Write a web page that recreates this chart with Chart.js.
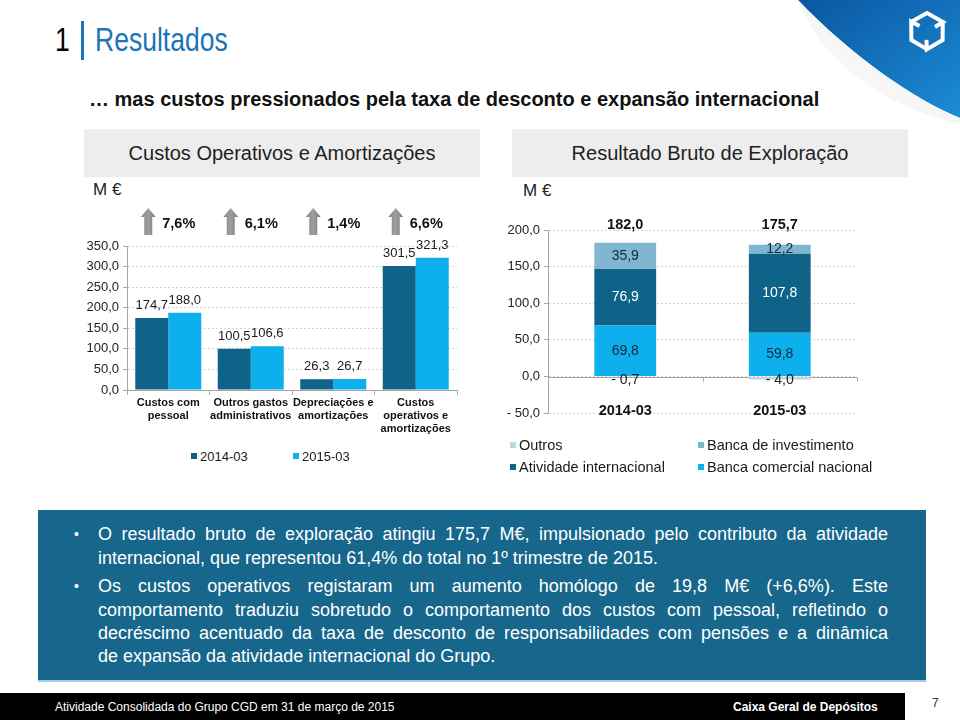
<!DOCTYPE html>
<html><head><meta charset="utf-8">
<script src="https://cdn.jsdelivr.net/npm/chart.js@4.4.0/dist/chart.umd.min.js"></script>
<style>
html,body{margin:0;padding:0;background:#fff;}
body{width:960px;height:720px;position:relative;overflow:hidden;font-family:"Liberation Sans",Arial,sans-serif;color:#1a1a1a;}
.abs{position:absolute;white-space:nowrap;}
.narrow{font-family:"Liberation Sans Narrow","Arial Narrow","Liberation Sans",sans-serif;transform:scaleX(0.78);transform-origin:0 0;}
.box{position:absolute;background:#ededed;height:48px;top:129px;width:396px;display:flex;align-items:center;justify-content:center;font-size:20px;color:#1e1e1e;}
.txt{position:absolute;left:38px;top:510px;width:888px;height:170px;background:#17678c;border-bottom:2px solid #9fd0e6;}
.ln{position:absolute;left:60px;width:790px;height:23.3px;line-height:23.3px;font-size:18px;color:#fff;white-space:normal;}
.j{text-align:justify;text-align-last:justify;}
.bul{position:absolute;left:36px;font-size:14px;color:#fff;line-height:23.3px;}
.lg{position:absolute;display:flex;align-items:center;color:#1a1a1a;white-space:nowrap;}
.lg i{display:inline-block;width:6px;height:6px;margin-right:3px;}
</style></head><body>

<div class="abs narrow" style="left:55px;top:22px;font-size:34px;line-height:34px;color:#000;">1</div>
<div class="abs" style="left:81px;top:21px;width:2.5px;height:39px;background:#1c74b9;"></div>
<div class="abs narrow" style="left:95px;top:22px;font-size:34px;line-height:34px;color:#1c74b9;">Resultados</div>

<div class="abs" style="left:89px;top:89px;font-size:20px;line-height:20px;font-weight:bold;color:#111;">… mas custos pressionados pela taxa de desconto e expansão internacional</div>

<div class="box" style="left:84px;">Custos Operativos e Amortizações</div>
<div class="box" style="left:512px;">Resultado Bruto de Exploração</div>
<div class="abs" style="left:93px;top:181px;font-size:17px;line-height:17px;color:#222;">M €</div>
<div class="abs" style="left:523px;top:182px;font-size:17px;line-height:17px;color:#222;">M €</div>

<svg class="abs" style="left:780px;top:0" width="180" height="140" viewBox="780 0 180 140">
  <defs>
    <linearGradient id="bg" x1="0" y1="0" x2="1" y2="1">
      <stop offset="0" stop-color="#0a57a0"/><stop offset="1" stop-color="#1c8bd6"/>
    </linearGradient>
    <linearGradient id="fg" x1="0" y1="1" x2="1" y2="0">
      <stop offset="0" stop-color="#ffffff"/><stop offset="0.55" stop-color="#f4f4f4"/><stop offset="0.85" stop-color="#cfcfcf"/><stop offset="1" stop-color="#9a9a9a"/>
    </linearGradient>
  </defs>
  <path d="M798,0 L960,0 L960,118 C915,100 850,55 798,0 Z" fill="url(#bg)"/>
  <path d="M798,0 C850,55 915,100 960,118 L960,124 C905,112 858,85 826,48 C814,32 805,16 798,0 Z" fill="url(#fg)"/>
  <g fill="none" stroke="#fff" stroke-width="4" stroke-linejoin="miter" stroke-linecap="butt">
    <polyline points="911,22 927,13 943,22 935,27"/>
    <polyline points="911,22 927,13 943,22 935,27" transform="rotate(120 927 31)"/>
    <polyline points="911,22 927,13 943,22 935,27" transform="rotate(240 927 31)"/>
  </g>
</svg>

<canvas id="c1" class="abs" style="left:0;top:195px;" width="480" height="250"></canvas>
<canvas id="c2" class="abs" style="left:480px;top:195px;" width="480" height="230"></canvas>

<div class="txt">
  <div class="bul" style="top:13.35px;">•</div>
  <div class="ln j" style="top:13.35px;">O resultado bruto de exploração atingiu 175,7 M€, impulsionado pelo contributo da atividade</div>
  <div class="ln" style="top:36.65px;">internacional, que representou 61,4% do total no 1º trimestre de 2015.</div>
  <div class="bul" style="top:65.35px;">•</div>
  <div class="ln j" style="top:65.35px;">Os custos operativos registaram um aumento homólogo de 19,8 M€ (+6,6%). Este</div>
  <div class="ln j" style="top:88.65px;">comportamento traduziu sobretudo o comportamento dos custos com pessoal, refletindo o</div>
  <div class="ln j" style="top:111.95px;">decréscimo acentuado da taxa de desconto de responsabilidades com pensões e a dinâmica</div>
  <div class="ln" style="top:135.25px;">de expansão da atividade internacional do Grupo.</div>
</div>

<div class="abs" style="left:0;top:693px;width:905px;height:27px;background:#000;"></div>
<div class="abs" style="left:55px;top:700px;font-size:12px;line-height:14px;color:#fff;">Atividade Consolidada do Grupo CGD em 31 de março de 2015</div>
<div class="abs" style="left:733px;top:700px;font-size:12px;line-height:14px;color:#fff;font-weight:bold;">Caixa Geral de Depósitos</div>
<div class="abs" style="left:932px;top:696px;font-size:12px;line-height:14px;color:#333;">7</div>

<script>
// ---------- data ----------
const costCategories = [['Custos com','pessoal'],['Outros gastos','administrativos'],['Depreciações e','amortizações'],['Custos','operativos e','amortizações']];
const costSeriesNames = ['2014-03','2015-03'];
const costs2014 = [174.7, 100.5, 26.3, 301.5];
const costs2015 = [188.0, 106.6, 26.7, 321.3];
const costGrowth = ['7,6%','6,1%','1,4%','6,6%'];

const rbePeriods = ['2014-03','2015-03'];
const rbeSeriesNames = ['Banca comercial nacional','Atividade internacional','Banca de investimento','Outros'];
const rbeComercial = [69.8, 59.8];
const rbeInternacional = [76.9, 107.8];
const rbeInvestimento = [35.9, 12.2];
const rbeOutros = [-0.7, -4.0];
const rbeTotals = [182.0, 175.7];

// ---------- styles ----------
const FONT = "'Liberation Sans', Arial, sans-serif";
const DARK = '#0f6389', LIGHT = '#0db0ec', MID = '#80b6d1', PALE = '#bdd6e5';
const AXIS = '#a6a6a6', GRID = '#d4d4d4';
Chart.defaults.font.family = FONT;

const fmt = v => (v < 0 ? '- ' : '') + Math.abs(v).toFixed(1).replace('.', ',');

// value labels above bars (left chart)
const topLabels = {
  id: 'topLabels',
  afterDatasetsDraw(chart) {
    const ctx = chart.ctx;
    ctx.save();
    ctx.font = '13px ' + FONT;
    ctx.fillStyle = '#1a1a1a';
    ctx.textAlign = 'center';
    ctx.textBaseline = 'alphabetic';
    chart.data.datasets.forEach((ds, di) => {
      chart.getDatasetMeta(di).data.forEach((el, i) => {
        ctx.fillText(fmt(ds.data[i]), el.x, el.y - 9);
      });
    });
    ctx.restore();
  }
};

// growth arrows + percentages above each category
const growthMarks = {
  id: 'growthMarks',
  afterDraw(chart) {
    const ctx = chart.ctx, xs = chart.scales.x, top = chart.chartArea.top;
    ctx.save();
    costGrowth.forEach((g, i) => {
      const cx = xs.getPixelForValue(i);
      const ax = cx - 20, y0 = top - 38, y1 = top - 11;
      const grd = ctx.createLinearGradient(ax - 7, 0, ax + 7, 0);
      grd.addColorStop(0, '#8a8a8a'); grd.addColorStop(0.5, '#9d9d9d'); grd.addColorStop(1, '#7d7d7d');
      ctx.fillStyle = grd;
      ctx.beginPath();
      ctx.moveTo(ax, y0);
      ctx.lineTo(ax + 7.5, y0 + 9);
      ctx.lineTo(ax + 4, y0 + 9);
      ctx.lineTo(ax + 4, y1);
      ctx.lineTo(ax - 4, y1);
      ctx.lineTo(ax - 4, y0 + 9);
      ctx.lineTo(ax - 7.5, y0 + 9);
      ctx.closePath();
      ctx.fill();
      ctx.fillStyle = '#111';
      ctx.font = 'bold 14.5px ' + FONT;
      ctx.textAlign = 'left';
      ctx.textBaseline = 'middle';
      ctx.fillText(g, cx - 6, top - 22);
    });
    ctx.restore();
  }
};

const c1 = new Chart(document.getElementById('c1'), {
  type: 'bar',
  data: {
    labels: costCategories,
    datasets: [
      { label: costSeriesNames[0], data: costs2014, backgroundColor: DARK },
      { label: costSeriesNames[1], data: costs2015, backgroundColor: LIGHT }
    ]
  },
  options: {
    responsive: false, animation: false, devicePixelRatio: 1,
    layout: { padding: { top: 51, right: 23, left: 0, bottom: 0 } },
    plugins: { legend: { display: false }, tooltip: { enabled: false } },
    datasets: { bar: { categoryPercentage: 0.8, barPercentage: 1.0 } },
    scales: {
      x: {
        grid: { display: true, drawOnChartArea: false, drawTicks: true, tickLength: 5, color: AXIS, offset: true },
        border: { display: true, color: AXIS },
        ticks: { color: '#111', font: { size: 11, weight: 'bold', lineHeight: 1.15 }, padding: 2, maxRotation: 0, autoSkip: false },
        afterFit: s => { s.height = 55; }
      },
      y: {
        min: 0, max: 350,
        ticks: { stepSize: 50, callback: v => fmt(v), color: '#222', font: { size: 13 }, padding: 4 },
        grid: { color: GRID, tickLength: 4, tickColor: AXIS },
        border: { display: true, color: AXIS, dash: [2, 2] },
        afterFit: s => { s.width = 127; }
      }
    }
  },
  plugins: [topLabels, growthMarks]
});

// ---------- right chart ----------
const zeroLine = {
  id: 'zeroLine',
  beforeDatasetsDraw(chart) {
    const ctx = chart.ctx, ys = chart.scales.y, a = chart.chartArea;
    const y0 = Math.round(ys.getPixelForValue(0)) + 0.5;
    ctx.save();
    ctx.strokeStyle = AXIS; ctx.lineWidth = 1;
    ctx.beginPath();
    ctx.moveTo(a.left, y0); ctx.lineTo(a.right, y0);
    const n = chart.data.labels.length, w = (a.right - a.left) / n;
    for (let k = 0; k <= n; k++) {
      const xx = Math.round(a.left + k * w) + 0.5;
      ctx.moveTo(xx, y0); ctx.lineTo(xx, y0 + 4);
    }
    ctx.stroke();
    ctx.restore();
  }
};

const stackLabels = {
  id: 'stackLabels',
  afterDatasetsDraw(chart) {
    const ctx = chart.ctx;
    ctx.save();
    ctx.textAlign = 'center';
    ctx.textBaseline = 'middle';
    ctx.font = '14px ' + FONT;
    chart.data.datasets.forEach((ds, di) => {
      ctx.fillStyle = ds.valueColor;
      chart.getDatasetMeta(di).data.forEach((el, i) => {
        const v = ds.data[i];
        let y = (el.y + el.base) / 2;
        if (v < 0) y = Math.max(y, el.base + 3.5);
        ctx.fillText(fmt(v), el.x, y);
      });
    });
    ctx.font = 'bold 14.5px ' + FONT;
    ctx.fillStyle = '#111';
    const meta0 = chart.getDatasetMeta(0);
    rbeTotals.forEach((t, i) => {
      ctx.fillText(fmt(t), meta0.data[i].x, chart.chartArea.top - 5);
    });
    ctx.restore();
  }
};

const c2 = new Chart(document.getElementById('c2'), {
  type: 'bar',
  data: {
    labels: rbePeriods,
    datasets: [
      { label: rbeSeriesNames[0], data: rbeComercial, backgroundColor: LIGHT, valueColor: '#14283a' },
      { label: rbeSeriesNames[1], data: rbeInternacional, backgroundColor: DARK, valueColor: '#ffffff' },
      { label: rbeSeriesNames[2], data: rbeInvestimento, backgroundColor: MID, valueColor: '#14283a' },
      { label: rbeSeriesNames[3], data: rbeOutros, backgroundColor: PALE, valueColor: '#1a1a1a' }
    ]
  },
  options: {
    responsive: false, animation: false, devicePixelRatio: 1,
    layout: { padding: { top: 35, right: 103, left: 0, bottom: 0 } },
    plugins: { legend: { display: false }, tooltip: { enabled: false } },
    datasets: { bar: { categoryPercentage: 0.4, barPercentage: 1.0 } },
    scales: {
      x: {
        stacked: true,
        grid: { display: false, drawTicks: false },
        border: { display: false },
        ticks: { color: '#111', font: { size: 14.5, weight: 'bold' }, mirror: true, padding: -6, maxRotation: 0 },
        afterFit: s => { s.height = 8.75; }
      },
      y: {
        stacked: true, min: -50, max: 200,
        ticks: { stepSize: 50, callback: v => fmt(v), color: '#222', font: { size: 13 }, padding: 4 },
        grid: { color: GRID, tickLength: 4, tickColor: AXIS },
        border: { display: true, color: AXIS, dash: [2, 2] },
        afterFit: s => { s.width = 68; }
      }
    }
  },
  plugins: [zeroLine, stackLabels]
});

// ---------- legends built from the chart datasets ----------
function legendItem(ds, x, y, size) {
  const d = document.createElement('div');
  d.className = 'lg';
  d.style.left = x + 'px'; d.style.top = y + 'px';
  d.style.fontSize = size + 'px'; d.style.lineHeight = size + 'px';
  const sq = document.createElement('i');
  sq.style.background = ds.backgroundColor;
  d.appendChild(sq);
  d.appendChild(document.createTextNode(ds.label));
  document.body.appendChild(d);
}
c1.data.datasets.forEach((ds, i) => legendItem(ds, 191 + i * 102, 456 - 6.5, 13));
const rev = c2.data.datasets.slice().reverse();
rev.forEach((ds, i) => legendItem(ds, 510 + (i % 2) * 188, 445 + Math.floor(i / 2) * 22 - 7.25, 14.5));
</script>
</body></html>
